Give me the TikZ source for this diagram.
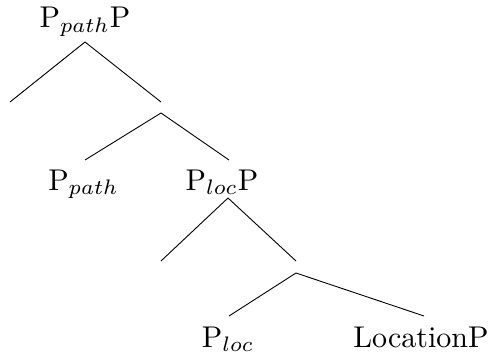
\documentclass[tikz,border=0pt]{standalone}
\begin{document}
\begin{tikzpicture}[x=1pt,y=-1pt,
  lab/.style={anchor=base, inner sep=0pt, scale=3.0},
  edge/.style={draw=black, line width=0.9pt}]
\useasboundingbox (0,0) rectangle (495,358);
\node[lab] (top) at (85,28) {P$_{path}$P};
\node[lab] (ppath) at (83.5,190) {P$_{path}$};
\node[lab] (plocp) at (222,190) {P$_{loc}$P};
\node[lab] (ploc) at (228,347) {P$_{loc}$};
\node[lab] (locp) at (421,347) {LocationP};
\coordinate (a0) at (85,42);
\coordinate (l1) at (10,102);
\coordinate (r1) at (161,102);
\coordinate (a1) at (161,113);
\coordinate (l2) at (85,160);
\coordinate (r2) at (229,160);
\coordinate (a2) at (228,198);
\coordinate (l3) at (161,261);
\coordinate (r3) at (296,261);
\coordinate (a3) at (296,273);
\coordinate (l4) at (229,316);
\coordinate (r4) at (424,316);
\draw[edge] (a0) -- (l1);
\draw[edge] (a0) -- (r1);
\draw[edge] (a1) -- (l2);
\draw[edge] (a1) -- (r2);
\draw[edge] (a2) -- (l3);
\draw[edge] (a2) -- (r3);
\draw[edge] (a3) -- (l4);
\draw[edge] (a3) -- (r4);
\end{tikzpicture}
\end{document}
